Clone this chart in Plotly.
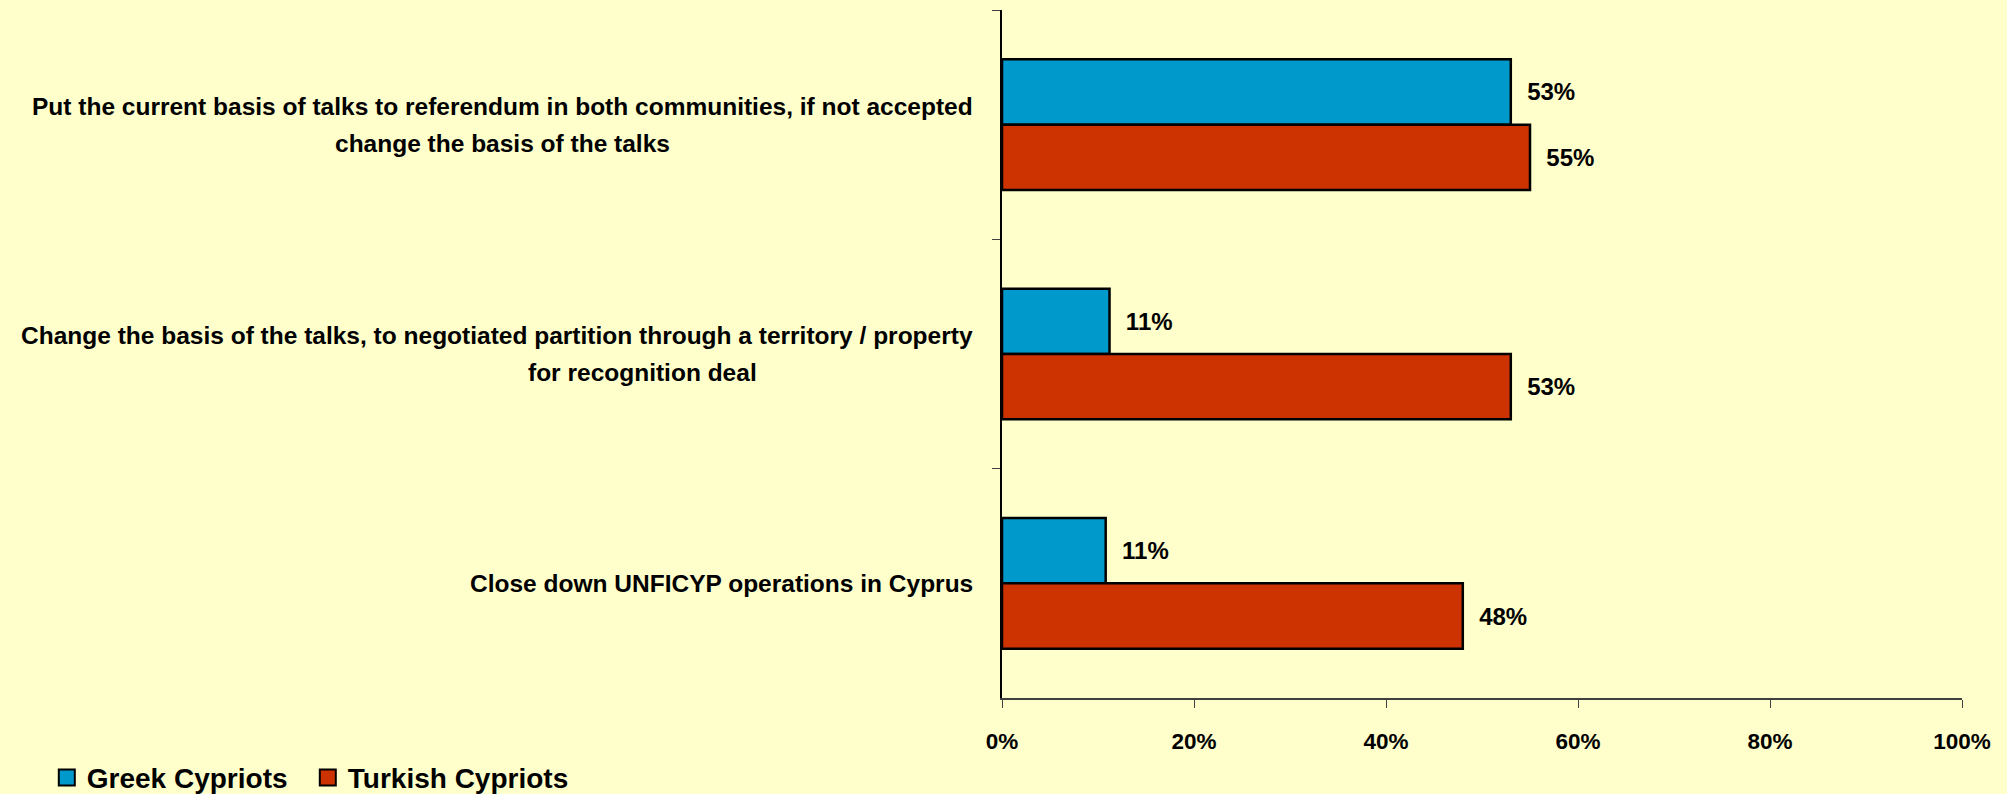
import plotly.graph_objects as go

# survey options, top to bottom (each entry = lines of the label)
OPTION_KEYS = ["opt1", "opt2", "opt3"]
OPTION_LINES = [
    ["Put the current basis of talks to referendum in both communities, if not accepted",
     "change the basis of the talks"],
    ["Change the basis of the talks, to negotiated partition through a territory / property",
     "for recognition deal"],
    ["Close down UNFICYP operations in Cyprus"],
]
# where the wrapped second line sits (paper x of its centre), as in the original
SECOND_LINE_CENTER = [-0.52, -0.375, None]

GREEK = [53, 11.2, 10.8]
TURKISH = [55, 53, 48]

X_TICKS = [0, 20, 40, 60, 80, 100]
X_TICK_LABELS = ["0%", "20%", "40%", "60%", "80%", "100%"]

FONT = "Liberation Sans"
BG = "#FFFFCC"
LABEL_FONT = dict(family=FONT, size=24.5, color="black", weight="bold")
VALUE_FONT = dict(family=FONT, size=24, color="black", weight="bold")
TICK_FONT = dict(family=FONT, size=22.5, color="black", weight="bold")

fig = go.Figure()

for name, vals, color in [("Greek Cypriots", GREEK, "#0099CC"),
                          ("Turkish Cypriots", TURKISH, "#CC3300")]:
    fig.add_trace(go.Bar(
        name=name, y=OPTION_KEYS, x=vals, orientation="h",
        marker=dict(color=color, line=dict(color="black", width=2.5)),
        texttemplate="  %{x:.0f}%", textposition="outside",
        textfont=VALUE_FONT, cliponaxis=False, showlegend=False,
    ))
    # legend entry with a bigger square, like the original
    fig.add_trace(go.Scatter(
        name=name, x=[None], y=[None], mode="markers",
        marker=dict(symbol="square", size=18, color=color,
                    line=dict(color="black", width=2)),
    ))

# category labels
LINE_GAP = 37
for key, lines, c2 in zip(OPTION_KEYS, OPTION_LINES, SECOND_LINE_CENTER):
    n = len(lines)
    for i, line in enumerate(lines):
        shift = ((n - 1) / 2 - i) * LINE_GAP
        if i == 0:
            fig.add_annotation(x=0, xref="paper", y=key, yref="y", text=line,
                               xanchor="right", yanchor="middle", xshift=-27,
                               yshift=shift, showarrow=False, font=LABEL_FONT)
        else:
            fig.add_annotation(x=c2, xref="paper", y=key, yref="y", text=line,
                               xanchor="center", yanchor="middle",
                               yshift=shift, showarrow=False, font=LABEL_FONT)

fig.update_layout(
    width=2007, height=794,
    margin=dict(l=1002, r=45, t=10, b=96, autoexpand=False),
    paper_bgcolor=BG, plot_bgcolor=BG,
    barmode="group", bargap=0.43, bargroupgap=0,
    font=dict(family=FONT, color="black"),
    showlegend=True,
    legend=dict(
        orientation="h", x=-0.995, xanchor="left", y=-0.116, yanchor="middle",
        font=dict(family=FONT, size=28, color="black", weight="bold"),
        entrywidth=216, entrywidthmode="pixels", itemsizing="trace",
        bgcolor="rgba(0,0,0,0)",
    ),
)

fig.update_xaxes(
    range=[0, 100], tickvals=X_TICKS, ticktext=X_TICK_LABELS,
    showgrid=False, zeroline=False,
    showline=True, linecolor="#404040", linewidth=2,
    ticks="outside", ticklen=8, tickcolor="#404040", tickwidth=1,
    ticklabelstandoff=14, tickfont=TICK_FONT,
)
fig.update_yaxes(
    type="category", categoryorder="array", categoryarray=OPTION_KEYS,
    autorange="reversed", showticklabels=False,
    showgrid=False, zeroline=False,
    showline=True, linecolor="black", linewidth=1.5,
    ticks="outside", ticklen=8, tickcolor="#404040", tickson="boundaries",
)

fig.write_html(
    "out.html",
    config={"displayModeBar": False},
    post_script="document.body.style.margin='0';document.body.style.background='#FFFFCC';",
)
